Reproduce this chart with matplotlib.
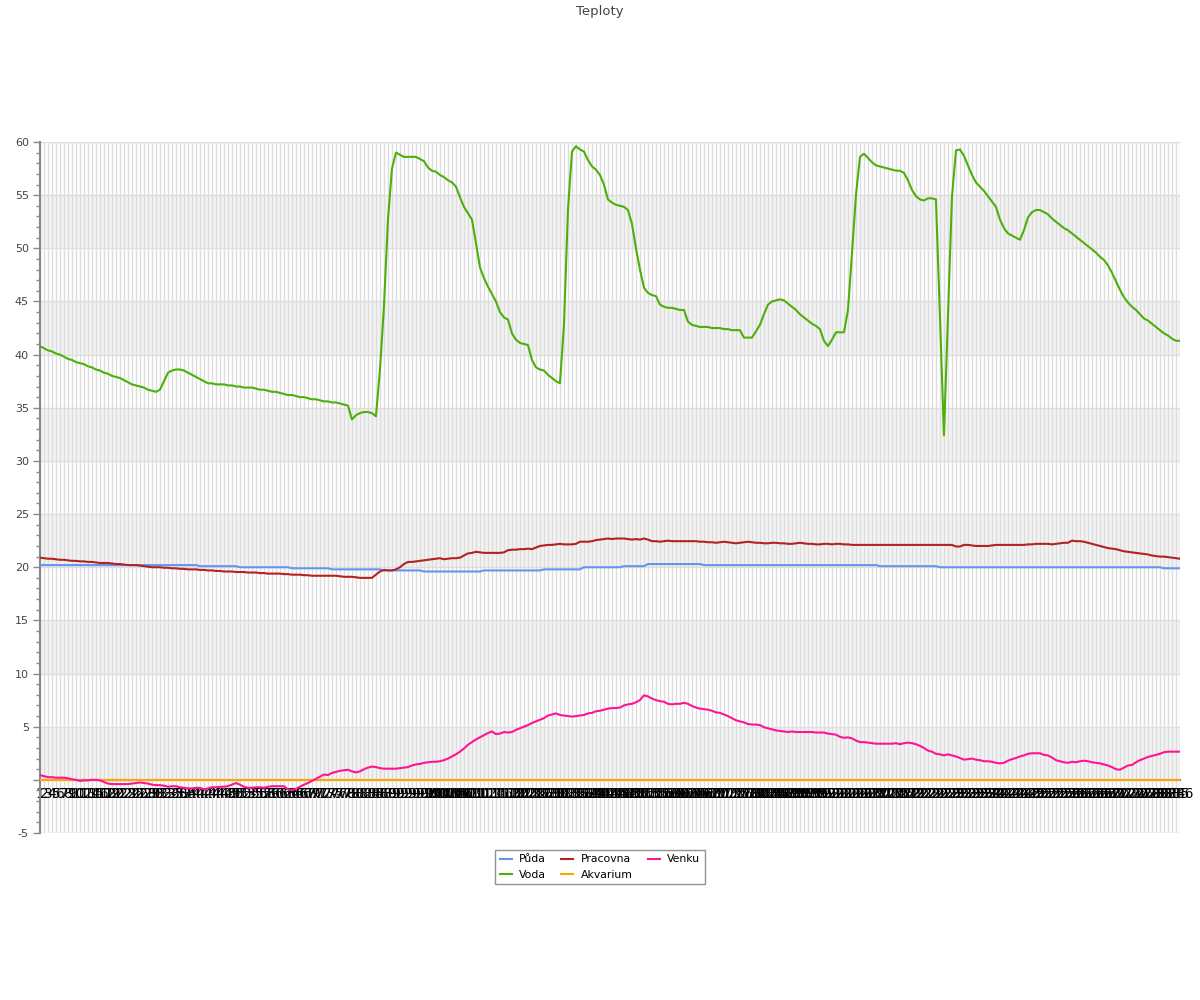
import numpy as np
import matplotlib
matplotlib.use("Agg")
import matplotlib.pyplot as plt
from matplotlib.ticker import MultipleLocator, FixedLocator

title = "Teploty"
series_names = ["Půda", "Voda", "Pracovna", "Akvarium", "Venku"]
series_colors = ["#6495ED", "#4CAF0A", "#B22222", "#FFA500", "#FF1493"]
categories = [str(i) for i in range(1, 287)]

puda = (
    [20.2] * 40 + [20.1] * 10 + [20.0] * 13 + [19.9] * 10 + [19.8] * 13
    + [19.7] * 10 + [19.6] * 15 + [19.7] * 15 + [19.8] * 10 + [20.0] * 10
    + [20.1] * 6 + [20.3] * 14 + [20.2] * 44 + [20.1] * 15 + [20.0] * 56 + [19.9] * 5
)

voda = [
    40.8, 40.6, 40.4, 40.3, 40.1, 40.0, 39.8, 39.6, 39.5, 39.3,
    39.2, 39.1, 38.9, 38.8, 38.6, 38.5, 38.3, 38.2, 38.0, 37.9,
    37.8, 37.6, 37.4, 37.2, 37.1, 37.0, 36.9, 36.7, 36.6, 36.5,
    36.7, 37.5, 38.3, 38.5, 38.6, 38.6, 38.5, 38.3, 38.1, 37.9,
    37.7, 37.5, 37.3, 37.3, 37.2, 37.2, 37.2, 37.1, 37.1, 37.0,
    37.0, 36.9, 36.9, 36.9, 36.8, 36.7, 36.7, 36.6, 36.5, 36.5,
    36.4, 36.3, 36.2, 36.2, 36.1, 36.0, 36.0, 35.9, 35.8, 35.8,
    35.7, 35.6, 35.6, 35.5, 35.5, 35.4, 35.3, 35.2, 33.9, 34.3,
    34.5, 34.6, 34.6, 34.5, 34.2, 38.6, 44.5, 52.7, 57.5, 59.0,
    58.8, 58.6, 58.6, 58.6, 58.6, 58.4, 58.2, 57.6, 57.3, 57.2,
    56.9, 56.7, 56.4, 56.2, 55.8, 54.8, 53.9, 53.3, 52.7, 50.5,
    48.2, 47.2, 46.4, 45.7, 45.0, 44.0, 43.5, 43.3, 42.0, 41.4,
    41.1, 41.0, 40.9, 39.5, 38.8, 38.6, 38.5, 38.1, 37.8, 37.5,
    37.3, 42.8, 53.6, 59.1, 59.6, 59.3, 59.1, 58.3, 57.7, 57.4,
    56.9, 56.0, 54.6, 54.3, 54.1, 54.0, 53.9, 53.6, 52.3, 50.0,
    48.0, 46.3, 45.8, 45.6, 45.5, 44.7, 44.5, 44.4, 44.4, 44.3,
    44.2, 44.2, 43.1, 42.8, 42.7, 42.6, 42.6, 42.6, 42.5, 42.5,
    42.5, 42.4, 42.4, 42.3, 42.3, 42.3, 41.6, 41.6, 41.6, 42.2,
    42.8, 43.8, 44.7, 45.0, 45.1, 45.2, 45.1, 44.8, 44.5, 44.2,
    43.8, 43.5, 43.2, 42.9, 42.7, 42.4, 41.3, 40.8, 41.4, 42.1,
    42.1, 42.1, 44.2, 49.5, 55.0, 58.6, 58.9, 58.5, 58.1, 57.8,
    57.7, 57.6, 57.5, 57.4, 57.3, 57.3, 57.1, 56.4, 55.5, 54.9,
    54.6, 54.5, 54.7, 54.7, 54.6, 43.5, 32.4, 43.6, 54.8, 59.2,
    59.3, 58.7, 57.8, 56.9, 56.2, 55.8, 55.4, 54.9, 54.4, 53.9,
    52.7, 51.9, 51.4, 51.2, 51.0, 50.8, 51.7, 52.9, 53.4, 53.6,
    53.6, 53.4, 53.2, 52.8, 52.5, 52.2, 51.9, 51.7, 51.4, 51.1,
    50.8, 50.5, 50.2, 49.9, 49.6, 49.2, 48.9, 48.4, 47.7, 46.9,
    46.1, 45.4, 44.9, 44.5, 44.2, 43.8, 43.4, 43.2, 42.9, 42.6,
    42.3, 42.0, 41.8, 41.5, 41.3, 41.3,
]

pracovna = [
    20.9, 20.85, 20.8, 20.8, 20.75, 20.7, 20.7, 20.65, 20.6, 20.6,
    20.55, 20.55, 20.5, 20.5, 20.45, 20.4, 20.4, 20.4, 20.35, 20.3,
    20.3, 20.25, 20.2, 20.2, 20.2, 20.15, 20.1, 20.05, 20.0, 20.0,
    20.0, 19.95, 19.95, 19.9, 19.9, 19.85, 19.85, 19.8, 19.8, 19.8,
    19.75, 19.75, 19.7, 19.7, 19.65, 19.65, 19.6, 19.6, 19.6, 19.55,
    19.55, 19.55, 19.5, 19.5, 19.5, 19.45, 19.45, 19.4, 19.4, 19.4,
    19.4, 19.35, 19.35, 19.3, 19.3, 19.3, 19.25, 19.25, 19.2, 19.2,
    19.2, 19.2, 19.2, 19.2, 19.2, 19.15, 19.1, 19.1, 19.1, 19.05,
    19.0, 19.0, 19.0, 19.0, 19.3, 19.6, 19.75, 19.7, 19.7, 19.8,
    20.0, 20.3, 20.5, 20.5, 20.55, 20.6, 20.65, 20.7, 20.75, 20.8,
    20.85, 20.75, 20.8, 20.85, 20.85, 20.9, 21.1, 21.3, 21.35, 21.45,
    21.4, 21.35, 21.35, 21.35, 21.35, 21.35, 21.4, 21.6, 21.65, 21.65,
    21.7, 21.7, 21.75, 21.7, 21.85, 22.0, 22.05, 22.1, 22.1, 22.15,
    22.2, 22.15, 22.15, 22.15, 22.2, 22.4, 22.4, 22.4, 22.45, 22.55,
    22.6, 22.65, 22.7, 22.65, 22.7, 22.7, 22.7, 22.65, 22.6, 22.65,
    22.6, 22.7, 22.6, 22.45, 22.45, 22.4, 22.45, 22.5, 22.45, 22.45,
    22.45, 22.45, 22.45, 22.45, 22.45, 22.4, 22.4, 22.35, 22.35, 22.3,
    22.35, 22.4, 22.35, 22.3, 22.25, 22.3, 22.35, 22.4, 22.35, 22.3,
    22.3, 22.25, 22.25, 22.3, 22.3, 22.25, 22.25, 22.2, 22.2, 22.25,
    22.3, 22.25, 22.2, 22.2, 22.15, 22.15, 22.2, 22.2, 22.15, 22.2,
    22.2, 22.15, 22.15, 22.1, 22.1, 22.1, 22.1, 22.1, 22.1, 22.1,
    22.1, 22.1, 22.1, 22.1, 22.1, 22.1, 22.1, 22.1, 22.1, 22.1,
    22.1, 22.1, 22.1, 22.1, 22.1, 22.1, 22.1, 22.1, 22.1, 21.95,
    21.95, 22.1, 22.1, 22.05, 22.0, 22.0, 22.0, 22.0, 22.05, 22.1,
    22.1, 22.1, 22.1, 22.1, 22.1, 22.1, 22.1, 22.15, 22.15, 22.2,
    22.2, 22.2, 22.2, 22.15, 22.2, 22.25, 22.3, 22.3, 22.5, 22.45,
    22.45, 22.4, 22.3, 22.2, 22.1, 22.0, 21.9, 21.8, 21.75, 21.7,
    21.6, 21.5, 21.45, 21.4, 21.35, 21.3, 21.25, 21.2, 21.1, 21.05,
    21.0, 21.0, 20.95, 20.9, 20.85, 20.8,
]

akvarium = [0.0] * 286

venku = [
    0.45, 0.35, 0.25, 0.25, 0.2, 0.2, 0.2, 0.15, 0.05, 0.0,
    -0.1, -0.05, -0.05, 0.0, 0.0, -0.05, -0.2, -0.35, -0.4, -0.4,
    -0.4, -0.4, -0.4, -0.35, -0.3, -0.25, -0.3, -0.35, -0.45, -0.5,
    -0.5, -0.55, -0.65, -0.6, -0.6, -0.7, -0.75, -0.8, -0.8, -0.75,
    -0.75, -0.9, -0.8, -0.7, -0.7, -0.65, -0.65, -0.6, -0.45, -0.3,
    -0.45, -0.65, -0.75, -0.75, -0.7, -0.7, -0.75, -0.65, -0.6, -0.6,
    -0.6, -0.6, -0.9, -0.95, -0.85, -0.65, -0.45, -0.3, -0.1, 0.1,
    0.3, 0.5, 0.45, 0.65, 0.75, 0.85, 0.9, 0.95, 0.8, 0.7,
    0.8, 1.0, 1.15, 1.25, 1.2, 1.1, 1.05, 1.05, 1.05, 1.05,
    1.1, 1.15, 1.2, 1.35, 1.45, 1.5, 1.6, 1.65, 1.7, 1.7,
    1.75, 1.85, 2.0, 2.2, 2.4, 2.65, 2.95, 3.3, 3.55, 3.8,
    4.0, 4.2, 4.4, 4.55, 4.3, 4.35, 4.5, 4.45, 4.5, 4.7,
    4.85, 5.0, 5.15, 5.35, 5.5, 5.65, 5.8, 6.05, 6.15, 6.25,
    6.1, 6.05, 6.0, 5.95, 6.0, 6.05, 6.1, 6.25, 6.3, 6.45,
    6.5, 6.6, 6.7, 6.75, 6.75, 6.8, 7.0, 7.1, 7.15, 7.3,
    7.5, 7.95, 7.85, 7.65, 7.5, 7.4, 7.35, 7.15, 7.1, 7.15,
    7.15, 7.25, 7.15, 6.95, 6.8, 6.7, 6.65, 6.6, 6.5, 6.35,
    6.3, 6.15, 6.0, 5.8, 5.6, 5.5, 5.4, 5.25, 5.2, 5.2,
    5.15, 4.95, 4.85, 4.75, 4.65, 4.6, 4.55, 4.5, 4.55, 4.5,
    4.5, 4.5, 4.5, 4.5, 4.45, 4.45, 4.45, 4.35, 4.3, 4.25,
    4.05, 3.95, 4.0, 3.9, 3.7, 3.55, 3.55, 3.5, 3.45, 3.4,
    3.4, 3.4, 3.4, 3.4, 3.45, 3.35, 3.45, 3.5, 3.45, 3.35,
    3.2, 3.0, 2.75, 2.65, 2.45, 2.4, 2.3, 2.4, 2.3, 2.2,
    2.05, 1.9, 1.95, 2.0, 1.9, 1.85, 1.75, 1.75, 1.7, 1.6,
    1.55, 1.6, 1.8, 1.95, 2.05, 2.2, 2.3, 2.45, 2.5, 2.5,
    2.5, 2.35, 2.3, 2.1, 1.85, 1.75, 1.65, 1.6, 1.7, 1.65,
    1.75, 1.8, 1.75, 1.65, 1.6, 1.55, 1.45, 1.35, 1.2, 1.0,
    0.95, 1.15, 1.35, 1.4, 1.65, 1.85, 2.0, 2.15, 2.25, 2.35,
    2.45, 2.6, 2.65, 2.65, 2.65, 2.65,
]

y_ticks = [-5, 0, 5, 10, 15, 20, 25, 30, 35, 40, 45, 50, 55, 60]
y_tick_labels = ["-5", "", "5", "10", "15", "20", "25", "30", "35", "40", "45", "50", "55", "60"]
bands = [(0, 5), (10, 15), (20, 25), (30, 35), (40, 45), (50, 55)]

plt.rcParams["font.family"] = ["DejaVu Sans"]
fig = plt.figure(figsize=(12, 10), dpi=100)
ax = fig.add_axes([0.0333, 0.167, 0.95, 0.691])

x = np.arange(len(categories))

for lo, hi in bands:
    ax.axhspan(lo, hi, color="#f3f3f3", zorder=0, lw=0)
for yt in y_ticks:
    ax.axhline(yt, color="#dddddd", lw=1, zorder=0.5)

data = [puda, voda, pracovna, akvarium, venku]
handles = []
for name, col, vals in zip(series_names, series_colors, data):
    (h,) = ax.plot(x, vals, color=col, lw=1.5, label=name, zorder=3,
                   solid_joinstyle="round")
    handles.append(h)

ax.set_xlim(0, len(categories) - 1)
ax.set_ylim(-5, 60)

ax.set_xticks(x)
ax.set_xticklabels(categories, fontsize=7, color="#444444")
ax.tick_params(axis="x", length=0, pad=5)
ax.grid(axis="x", color="#dddddd", lw=1, zorder=0.6)
ax.set_axisbelow(True)

ax.yaxis.set_major_locator(FixedLocator(y_ticks))
ax.set_yticklabels(y_tick_labels, fontsize=8, color="#444444")
ax.yaxis.set_minor_locator(MultipleLocator(1))
ax.tick_params(axis="y", which="major", length=5, width=1, color="#888888", pad=3)
ax.tick_params(axis="y", which="minor", length=3, width=1, color="#888888")

ax.spines["top"].set_visible(False)
ax.spines["right"].set_visible(False)
ax.spines["left"].set_color("#888888")
ax.spines["left"].set_linewidth(1.5)
ax.spines["bottom"].set_position(("data", 0))
ax.spines["bottom"].set_color("#888888")
ax.spines["bottom"].set_linewidth(1.5)
ax.spines["bottom"].set_zorder(2.5)

fig.text(0.5, 0.989, title, ha="center", va="center", fontsize=9.5, color="#444444")

leg = fig.legend(handles, series_names, loc="upper center", bbox_to_anchor=(0.5, 0.15),
                 borderaxespad=0, ncol=3, frameon=True, fancybox=False,
                 edgecolor="#777777", fontsize=7.8, handlelength=1.1,
                 handletextpad=0.7, columnspacing=1.4, labelspacing=0.5,
                 borderpad=0.4)
leg.get_frame().set_linewidth(1.0)

fig.savefig("out.png", dpi=100)
